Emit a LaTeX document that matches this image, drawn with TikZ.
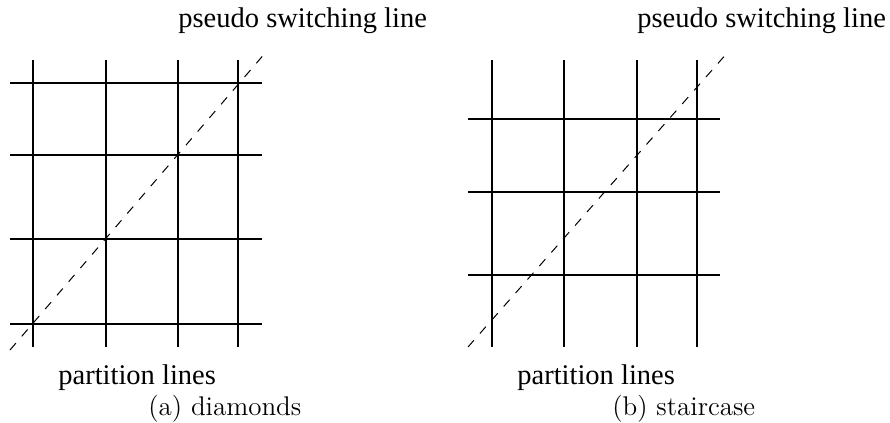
\documentclass[tikz,border=0pt]{standalone}
\usepackage{fontspec}
\newfontfamily\timesfont{Liberation Serif}
\usetikzlibrary{positioning}

\begin{document}
\begin{tikzpicture}[
  x=0.5pt, y=-0.5pt,
  part/.style={line width=1.35pt},
  switchline/.style={line width=0.5pt, dash pattern=on 4.5pt off 4.5pt},
  lab/.style={anchor=base west, inner sep=0pt, font=\timesfont\fontsize{14.25}{17}\selectfont},
  capt/.style={anchor=base west, inner sep=0pt, font=\fontsize{13.5}{16}\selectfont},
]
\useasboundingbox (0,0) rectangle (890,423);

% ---- (a) diamonds: partition grid + switching line ----
\foreach \x in {33,106,178,238} \draw[part] (\x,60) -- (\x,347);
\foreach \y in {83,155,239,324} \draw[part] (10,\y) -- (262,\y);
\coordinate (SA0) at (10,350);
\coordinate (SA1) at (266,52);
\draw[switchline] (SA0) -- (SA1);

\node[lab] (PSA) at (178,27) {pseudo switching line};
\node[lab] (PLA) at (58,384) {partition lines};
\node[capt] (CAPA) at (148,415) {(a) diamonds};

% ---- (b) staircase: partition grid + switching line ----
\foreach \x in {492,564,637,697} \draw[part] (\x,60) -- (\x,347);
\foreach \y in {119,192,275} \draw[part] (468,\y) -- (720,\y);
\coordinate (SB0) at (468,347);
\coordinate (SB1) at (728,52);
\draw[switchline] (SB0) -- (SB1);

\node[lab] (PSB) at (637,27) {pseudo switching line};
\node[lab] (PLB) at (517,384) {partition lines};
\node[capt] (CAPB) at (612,415) {(b) staircase};

\end{tikzpicture}
\end{document}
